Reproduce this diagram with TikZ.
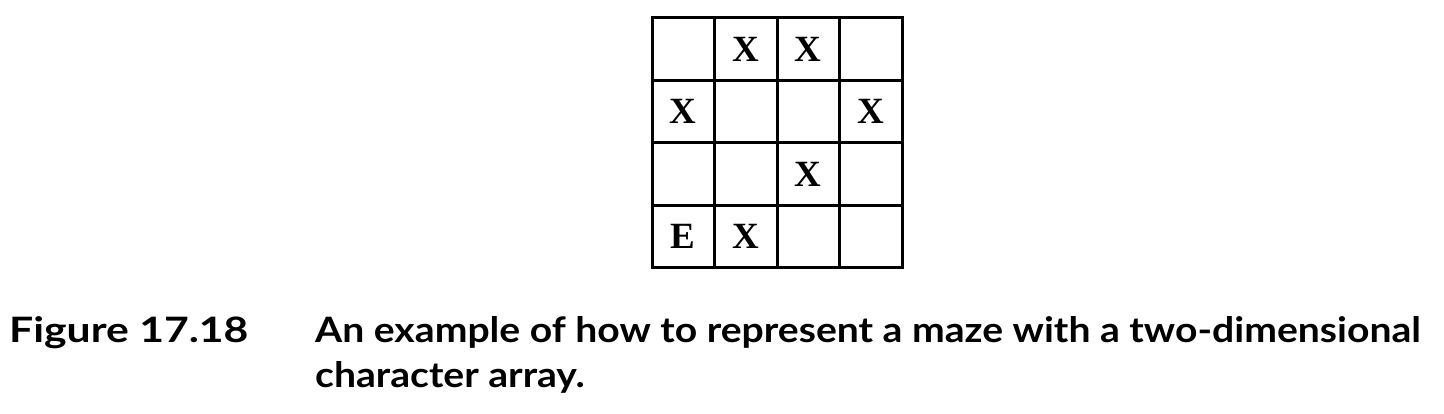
\documentclass[tikz,border=0pt]{standalone}
\usepackage{fontspec}
\setmainfont{Liberation Serif}
\newfontfamily\capfont{Lato}[FakeStretch=1.117]
\newfontfamily\figfont{Lato}[FakeStretch=1.22]
\usetikzlibrary{positioning}

\begin{document}
\begin{tikzpicture}[x=1pt,y=-1pt,
  cell/.style={draw, line width=3pt, minimum size=62.5pt, inner sep=0pt,
    font=\fontsize{37}{40}\selectfont\bfseries},
  caption/.style={anchor=base west, inner sep=0pt,
    font=\capfont\fontsize{35}{45}\selectfont\bfseries}]
  \useasboundingbox (0,0) rectangle (1444,414);

  % Maze cells, row by row from the top
  % First row
  \node[cell] (a1) at (683.25,49.25) {};
  \node[cell] (a2) at (745.75,49.25) {X};
  \node[cell] (a3) at (808.25,49.25) {X};
  \node[cell] (a4) at (870.75,49.25) {};

  % Second row
  \node[cell] (b1) at (683.25,111.75) {X};
  \node[cell] (b2) at (745.75,111.75) {};
  \node[cell] (b3) at (808.25,111.75) {};
  \node[cell] (b4) at (870.75,111.75) {X};

  % Third row
  \node[cell] (c1) at (683.25,174.25) {};
  \node[cell] (c2) at (745.75,174.25) {};
  \node[cell] (c3) at (808.25,174.25) {X};
  \node[cell] (c4) at (870.75,174.25) {};

  % Fourth row, with the exit
  \node[cell] (d1) at (683.25,236.75) {E};
  \node[cell] (d2) at (745.75,236.75) {X};
  \node[cell] (d3) at (808.25,236.75) {};
  \node[cell] (d4) at (870.75,236.75) {};

  % Caption
  \node[caption, font=\figfont\fontsize{35}{45}\selectfont\bfseries] (fig) at (9,342) {Figure 17.18};
  \node[caption] (cap1) at (315,342) {An example of how to represent a maze with a two-dimensional};
  \node[caption] (cap2) at (315,387) {character array.};
\end{tikzpicture}
\end{document}
